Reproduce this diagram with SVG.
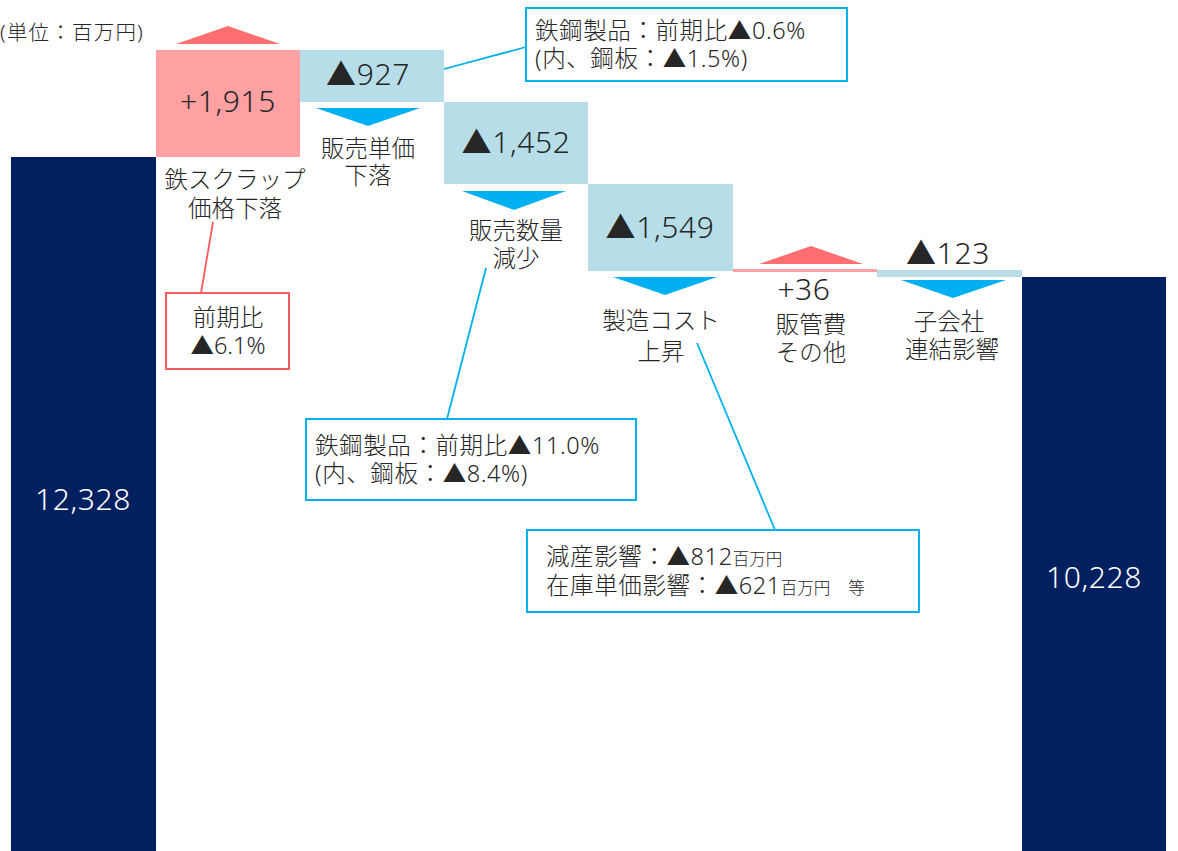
<svg xmlns="http://www.w3.org/2000/svg" width="1178" height="851" viewBox="0 0 1178 851">
<style>
text{font-family:"Noto Sans","Noto Sans CJK JP",sans-serif;fill:#262626;font-weight:300}
.num{font-size:30px;text-anchor:middle;letter-spacing:0.6px}
.lbl{font-size:23.5px;text-anchor:middle}
.call{font-size:23.5px;letter-spacing:0.6px}
.sm{font-size:16.5px;letter-spacing:0}
.wh{fill:#ffffff}
.navy{fill:#002060}
.pink{fill:#FFA0A3}
.lb{fill:#B7DEE8}
.rtri{fill:#FF6E70}
.btri{fill:#00B0F0}
.bbox{fill:#ffffff;stroke:#00B0F0;stroke-width:2}
.rbox{fill:#ffffff;stroke:#FF5A5F;stroke-width:2}
.bl{stroke:#00B0F0;stroke-width:1.8;fill:none}
.rl{stroke:#FF5A5F;stroke-width:1.8;fill:none}
</style>
<rect width="1178" height="851" fill="#ffffff"/>
<text x="0" y="40" style="font-size:20.5px;letter-spacing:1.2px">(単位：百万円)</text>

<g id="connectors">
<line class="rl" x1="213" y1="222" x2="201" y2="293"/>
<line class="bl" x1="433" y1="72" x2="526" y2="47"/>
<line class="bl" x1="486" y1="268" x2="447" y2="419"/>
<line class="bl" x1="697" y1="343" x2="775" y2="530"/>
</g>

<g id="start">
<rect class="navy" x="11" y="157" width="145" height="694"/>
<text class="num wh" x="83" y="510">12,328</text>
</g>

<g id="scrap">
<rect class="pink" x="156" y="50" width="144" height="107"/>
<polygon class="rtri" points="176,44 228,26 280,44"/>
<text class="num" x="228" y="112">+1,915</text>
<text class="lbl" x="235" y="188">鉄スクラップ</text>
<text class="lbl" x="235" y="217">価格下落</text>
</g>

<g id="price">
<rect class="lb" x="300" y="50" width="144" height="52"/>
<polygon class="btri" points="316,108 420,108 368,126"/>
<text class="num" x="368" y="85">▲927</text>
<text class="lbl" x="368" y="157">販売単価</text>
<text class="lbl" x="368" y="184">下落</text>
</g>

<g id="volume">
<rect class="lb" x="444" y="102" width="144" height="82"/>
<polygon class="btri" points="462,191 566,191 514,210"/>
<text class="num" x="516" y="153">▲1,452</text>
<text class="lbl" x="516" y="239">販売数量</text>
<text class="lbl" x="516" y="267">減少</text>
</g>

<g id="cost">
<rect class="lb" x="588" y="184" width="145" height="87"/>
<polygon class="btri" points="613,277 717,277 665,295"/>
<text class="num" x="660" y="238">▲1,549</text>
<text class="lbl" x="661" y="329">製造コスト</text>
<text class="lbl" x="661" y="360">上昇</text>
</g>

<g id="sga">
<rect class="pink" x="733" y="269" width="144" height="3"/>
<polygon class="rtri" points="759,264 811,246 863,264"/>
<text class="num" x="804" y="300">+36</text>
<text class="lbl" x="811" y="333">販管費</text>
<text class="lbl" x="811" y="361">その他</text>
</g>

<g id="subsidiary">
<rect class="lb" x="877" y="270" width="145" height="7"/>
<polygon class="btri" points="901,280 1006,280 953,298"/>
<text class="num" x="948" y="264">▲123</text>
<text class="lbl" x="949" y="330">子会社</text>
<text class="lbl" x="952" y="358">連結影響</text>
</g>

<g id="end">
<rect class="navy" x="1022" y="277" width="144" height="574"/>
<text class="num wh" x="1094" y="588">10,228</text>
</g>

<g id="callout-scrap">
<rect class="rbox" x="166" y="293" width="123" height="76"/>
<text class="lbl" x="228" y="326">前期比</text>
<text class="lbl" x="228" y="354">▲6.1%</text>
</g>

<g id="callout-price">
<rect class="bbox" x="526" y="8" width="321" height="73"/>
<text class="call" x="535" y="39">鉄鋼製品：前期比▲0.6%</text>
<text class="call" x="535" y="67">(内、鋼板：▲1.5%)</text>
</g>

<g id="callout-volume">
<rect class="bbox" x="306" y="419" width="330" height="81"/>
<text class="call" x="315" y="454">鉄鋼製品：前期比▲11.0%</text>
<text class="call" x="315" y="482">(内、鋼板：▲8.4%)</text>
</g>

<g id="callout-cost">
<rect class="bbox" x="527" y="530" width="392" height="82"/>
<text class="call" x="546" y="565">減産影響：▲812<tspan class="sm">百万円</tspan></text>
<text class="call" x="546" y="594">在庫単価影響：▲621<tspan class="sm">百万円</tspan><tspan class="sm" dx="18">等</tspan></text>
</g>
</svg>
